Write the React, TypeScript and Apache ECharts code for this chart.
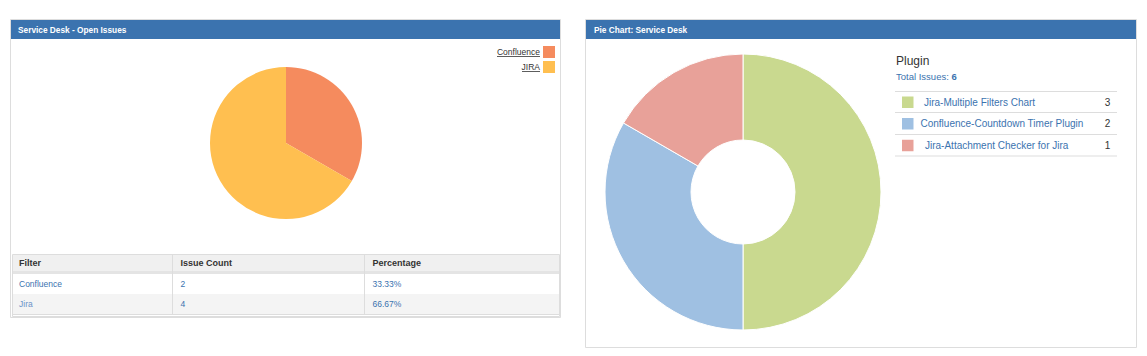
import React, { useEffect, useRef } from "react";
import * as echarts from "echarts";

const leftTitle = "Service Desk - Open Issues";
const leftCategories = ["Confluence", "JIRA"];
const leftTableNames = ["Confluence", "Jira"];
const leftValues = [2, 4];
const leftColors = ["#F58B5E", "#FFBF50"];
const tableHeaders = ["Filter", "Issue Count", "Percentage"];

const rightTitle = "Pie Chart: Service Desk";
const rightGroupTitle = "Plugin";
const rightCategories = [
  "Jira-Multiple Filters Chart",
  "Confluence-Countdown Timer Plugin",
  "Jira-Attachment Checker for Jira",
];
const rightValues = [3, 2, 1];
const rightColors = ["#C9D98F", "#9FC0E2", "#E8A199"];

const FONT = "'Liberation Sans', Arial, Helvetica, sans-serif";
const HEADER_BLUE = "#3B73AF";
const LINK_BLUE = "#3B73AF";
const BORDER = "#DDDDDD";

export default function App() {
  const ref = useRef<HTMLDivElement>(null);

  useEffect(() => {
    if (!ref.current) return;
    const chart = echarts.init(ref.current, undefined, { renderer: "svg" });

    const leftTotal = leftValues.reduce((a, b) => a + b, 0);
    const rightTotal = rightValues.reduce((a, b) => a + b, 0);

    const graphic: any[] = [];

    // ---------- Left panel ----------
    graphic.push({
      type: "rect",
      shape: { x: 10.5, y: 19.5, width: 550, height: 298 },
      style: { fill: "#fff", stroke: BORDER, lineWidth: 1 },
      z: 0,
    });
    graphic.push({
      type: "rect",
      shape: { x: 11, y: 20, width: 549, height: 19 },
      style: { fill: HEADER_BLUE },
      z: 1,
    });
    graphic.push({
      type: "text",
      x: 18,
      y: 29.5,
      style: {
        text: leftTitle,
        fill: "#fff",
        font: `bold 8.3px ${FONT}`,
        verticalAlign: "middle",
      },
      z: 2,
    });

    // left legend
    const legendYs = [52, 67];
    leftCategories.forEach((c, i) => {
      const y = legendYs[i];
      graphic.push({
        type: "text",
        x: 540,
        y,
        style: {
          text: c,
          fill: "#333",
          font: `8.5px ${FONT}`,
          align: "right",
          verticalAlign: "middle",
        },
        z: 2,
      });
      const w = i === 0 ? 43 : 18;
      graphic.push({
        type: "line",
        shape: { x1: 540 - w, y1: y + 4.5, x2: 540, y2: y + 4.5 },
        style: { stroke: "#333", lineWidth: 0.8 },
        z: 2,
      });
      graphic.push({
        type: "rect",
        shape: { x: 543, y: y - 6, width: 12, height: 12 },
        style: { fill: leftColors[i] },
        z: 2,
      });
    });

    // left table
    const tX = 12;
    const tW = 547;
    graphic.push({
      type: "rect",
      shape: { x: tX + 0.5, y: 254.5, width: tW, height: 62 },
      style: { fill: "#fff", stroke: BORDER, lineWidth: 1 },
      z: 1,
    });
    graphic.push({
      type: "rect",
      shape: { x: tX + 1, y: 255, width: tW - 1, height: 16 },
      style: { fill: "#F0F0F0" },
      z: 1,
    });
    graphic.push({
      type: "rect",
      shape: { x: tX + 1, y: 271, width: tW - 1, height: 3 },
      style: { fill: "#E4E4E4" },
      z: 1,
    });
    graphic.push({
      type: "rect",
      shape: { x: tX + 1, y: 294, width: tW - 1, height: 20 },
      style: { fill: "#F4F4F4" },
      z: 1,
    });
    graphic.push({
      type: "line",
      shape: { x1: tX + 1, y1: 314.5, x2: tX + tW, y2: 314.5 },
      style: { stroke: BORDER, lineWidth: 1 },
      z: 1,
    });
    const colXs = [tX - 1, 172.5, 364.5];
    [172.5, 364.5].forEach((x) => {
      graphic.push({
        type: "line",
        shape: { x1: x, y1: 255, x2: x, y2: 314 },
        style: { stroke: BORDER, lineWidth: 1 },
        z: 2,
      });
    });
    tableHeaders.forEach((h, i) => {
      graphic.push({
        type: "text",
        x: colXs[i] + 8,
        y: 263,
        style: {
          text: h,
          fill: "#333",
          font: `bold 9px ${FONT}`,
          verticalAlign: "middle",
        },
        z: 3,
      });
    });
    const rowYs = [284, 303.5];
    leftTableNames.forEach((n, r) => {
      const vals = [
        n,
        String(leftValues[r]),
        ((leftValues[r] / leftTotal) * 100).toFixed(2) + "%",
      ];
      vals.forEach((v, i) => {
        graphic.push({
          type: "text",
          x: colXs[i] + 8,
          y: rowYs[r],
          style: {
            text: v,
            fill: r === 0 || i > 0 ? LINK_BLUE : "#6A93C8",
            font: `8.5px ${FONT}`,
            verticalAlign: "middle",
          },
          z: 3,
        });
      });
    });

    // ---------- Right panel ----------
    graphic.push({
      type: "rect",
      shape: { x: 585.5, y: 19.5, width: 551, height: 328 },
      style: { fill: "#fff", stroke: BORDER, lineWidth: 1 },
      z: 0,
    });
    graphic.push({
      type: "rect",
      shape: { x: 586, y: 20, width: 550, height: 19 },
      style: { fill: HEADER_BLUE },
      z: 1,
    });
    graphic.push({
      type: "text",
      x: 594,
      y: 29.5,
      style: {
        text: rightTitle,
        fill: "#fff",
        font: `bold 8.3px ${FONT}`,
        verticalAlign: "middle",
      },
      z: 2,
    });
    graphic.push({
      type: "text",
      x: 896,
      y: 61,
      style: {
        text: rightGroupTitle,
        fill: "#333",
        font: `12px ${FONT}`,
        verticalAlign: "middle",
      },
      z: 2,
    });
    graphic.push({
      type: "text",
      x: 896,
      y: 76.5,
      style: {
        text: `{a|Total Issues: }{b|${rightTotal}}`,
        verticalAlign: "middle",
        rich: {
          a: { fill: LINK_BLUE, font: `9.5px ${FONT}` },
          b: { fill: LINK_BLUE, font: `bold 9.5px ${FONT}` },
        },
      },
      z: 2,
    });
    const lineYs = [91.5, 112.5, 134.5, 156];
    lineYs.forEach((y) => {
      graphic.push({
        type: "line",
        shape: { x1: 895, y1: y, x2: 1117, y2: y },
        style: { stroke: BORDER, lineWidth: 1 },
        z: 2,
      });
    });
    const textXs = [924, 920.5, 925];
    rightCategories.forEach((c, i) => {
      const yc = (lineYs[i] + lineYs[i + 1]) / 2;
      graphic.push({
        type: "rect",
        shape: { x: 902, y: yc - 5.5, width: 11.5, height: 11.5 },
        style: { fill: rightColors[i] },
        z: 2,
      });
      graphic.push({
        type: "text",
        x: textXs[i],
        y: yc,
        style: {
          text: c,
          fill: LINK_BLUE,
          font: `10px ${FONT}`,
          verticalAlign: "middle",
        },
        z: 2,
      });
      graphic.push({
        type: "text",
        x: 1107.5,
        y: yc,
        style: {
          text: String(rightValues[i]),
          fill: "#333",
          font: `10px ${FONT}`,
          align: "center",
          verticalAlign: "middle",
        },
        z: 2,
      });
    });

    chart.setOption({
      animation: false,
      tooltip: { show: false },
      graphic,
      series: [
        {
          type: "pie",
          center: [286, 143],
          radius: 76,
          startAngle: 90,
          clockwise: true,
          label: { show: false },
          labelLine: { show: false },
          itemStyle: { borderWidth: 0 },
          emphasis: { disabled: true },
          data: leftCategories.map((c, i) => ({
            name: c,
            value: leftValues[i],
            itemStyle: { color: leftColors[i] },
          })),
          z: 5,
        },
        {
          type: "pie",
          center: [743, 192],
          radius: [52, 138],
          startAngle: 90,
          clockwise: true,
          label: { show: false },
          labelLine: { show: false },
          itemStyle: { borderColor: "#fff", borderWidth: 1 },
          emphasis: { disabled: true },
          data: rightCategories.map((c, i) => ({
            name: c,
            value: rightValues[i],
            itemStyle: { color: rightColors[i] },
          })),
          z: 5,
        },
      ],
    });

    return () => chart.dispose();
  }, []);

  return (
    <div
      ref={ref}
      style={{
        position: "absolute",
        left: 0,
        top: 0,
        width: 1147,
        height: 356,
        background: "#fff",
      }}
    />
  );
}
